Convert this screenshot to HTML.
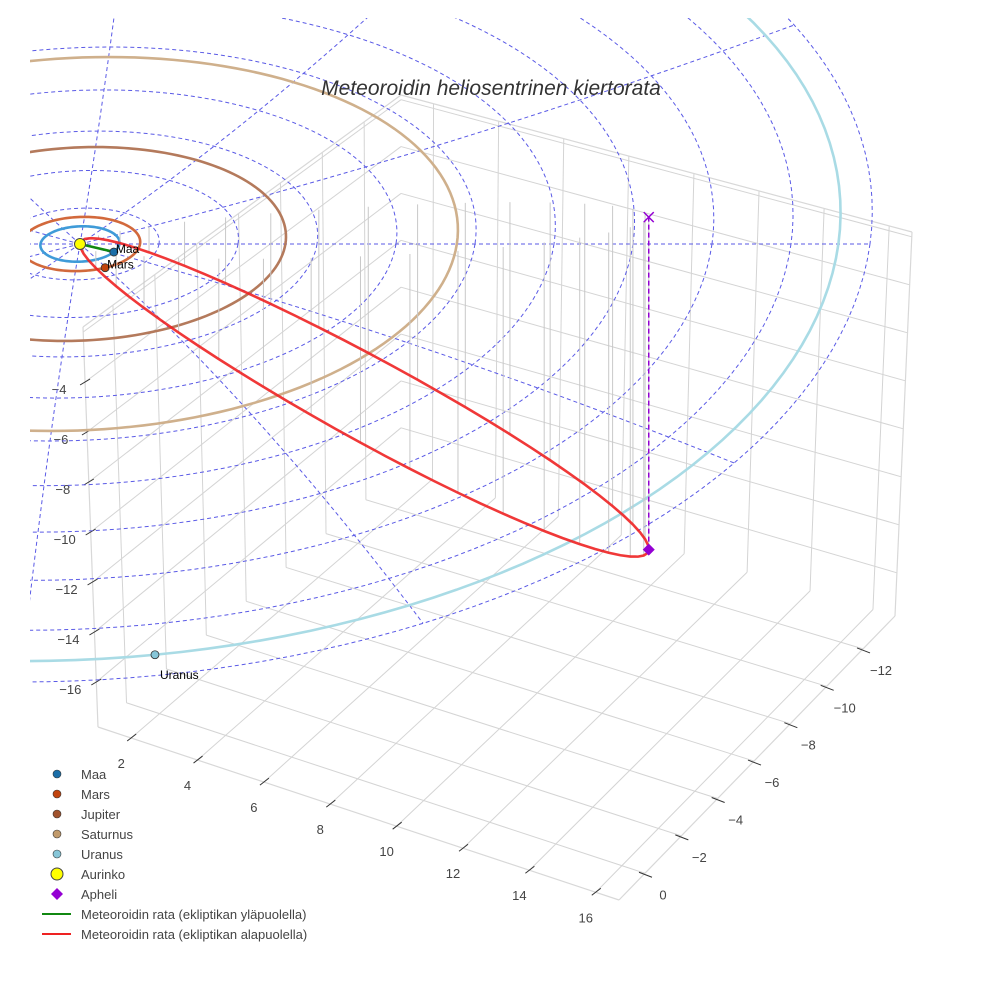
<!DOCTYPE html>
<html><head><meta charset="utf-8"><style>
html,body{margin:0;padding:0;background:#fff;}
svg{display:block;font-family:"Liberation Sans",Arial,sans-serif;}
</style></head><body>
<svg id="chart" width="984" height="984" viewBox="0 0 984 984" xmlns="http://www.w3.org/2000/svg">
<defs><clipPath id="clipEcl"><rect x="30" y="18" width="954" height="940"/></clipPath></defs>
<rect width="984" height="984" fill="#fff"/>
<g id="box"></g>
<g id="ticks"></g>
<g id="ecl" clip-path="url(#clipEcl)"></g>
<text x="491" y="95" text-anchor="middle" font-size="21" font-style="italic" fill="#333">Meteoroidin heliosentrinen kiertorata</text>
<g id="legend"></g>
</svg>
<script>
// ---- data ----
const xTicks = [2,4,6,8,10,12,14,16];
const yTicks = [0,-2,-4,-6,-8,-10,-12];
const zTicks = [-16,-14,-12,-10,-8,-6,-4];
const zGrid = [-16,-14,-12,-10,-8,-6,-4,-2];
const planetNames = ["Maa","Mars","Jupiter","Saturnus","Uranus"];
const planetA = [1.0,1.52,5.2,9.54,19.2];
const planetAngleDeg = [27,61,185,175,80];
const planetLabeled = [true,true,false,false,true];
const gridRadii = [2,4,6,8,10,12,14,16,18,20];
const spokeAnglesDeg = [0,30,60,90,120,150,180,210,240,270,300,330];
const aphelion = [14.3,-1.3,-13.3];
const perihelion = [0,0,0];
const orbitWidth = [0,1.3,-0.8];
const aboveEcliptic = [[0,0,0],[0.9,0.45,0]];

const NS="http://www.w3.org/2000/svg";
function mk(tag,attrs,parent){const e=document.createElementNS(NS,tag);for(const k in attrs)e.setAttribute(k,attrs[k]);parent.appendChild(e);return e;}

function proj(X,Y,Z){const r=Math.hypot(X,Y);return [80+39.5*X-3*Y, 244+(17.5+0.22*r)*Y-25*Z];}
const BFL=[98,727],BFR=[619,900],BBR=[895,616],BBL=[401,470],TFL=[83,327],TFR=[610,530],TBR=[912,232],TBL=[401,95];
const xr=[1,16.7],yr=[1.43,-13.76],zr=[-17.8,-1.8];
function lerp(a,b,t){return [a[0]+(b[0]-a[0])*t,a[1]+(b[1]-a[1])*t];}
function bp(x,y,z){const u=(x-xr[0])/(xr[1]-xr[0]),v=(y-yr[0])/(yr[1]-yr[0]),w=(z-zr[0])/(zr[1]-zr[0]);
 const b=lerp(lerp(BFL,BFR,u),lerp(BBL,BBR,u),v),t=lerp(lerp(TFL,TFR,u),lerp(TBL,TBR,u),v);return lerp(b,t,w);}

const box=document.getElementById('box');
function gl(p,q,c,w){const l=mk('line',{x1:p[0],y1:p[1],x2:q[0],y2:q[1],stroke:c||'#d4d4d4','stroke-width':w||1},box);return l;}
for(const x of xTicks){const l=gl(bp(x,yr[0],zr[0]),bp(x,yr[1],zr[0]));}
for(const y of yTicks){const l=gl(bp(xr[0],y,zr[0]),bp(xr[1],y,zr[0]));}
for(const x of xTicks){const l=gl(bp(x,yr[1],zr[0]),bp(x,yr[1],zr[1]));}
for(const z of zGrid){const l=gl(bp(xr[0],yr[1],z),bp(xr[1],yr[1],z));}
for(const y of yTicks){const l=gl(bp(xr[0],y,zr[0]),bp(xr[0],y,zr[1]));}
for(const z of zGrid){const l=gl(bp(xr[0],yr[0],z),bp(xr[0],yr[1],z));}
[[bp(xr[0],yr[0],zr[0]),bp(xr[1],yr[0],zr[0])],[bp(xr[1],yr[0],zr[0]),bp(xr[1],yr[1],zr[0])],[bp(xr[0],yr[0],zr[0]),bp(xr[0],yr[0],zr[1])],
 [bp(xr[1],yr[1],zr[0]),bp(xr[1],yr[1],zr[1])],[bp(xr[0],yr[1],zr[1]),bp(xr[1],yr[1],zr[1])],[bp(xr[0],yr[0],zr[1]),bp(xr[0],yr[1],zr[1])]].forEach(e=>{const l=gl(e[0],e[1],'#d8d8d8',1.2);});

const tk=document.getElementById('ticks');
function tline(p,a,b){const l=mk('line',{x1:p[0]+a[0],y1:p[1]+a[1],x2:p[0]+b[0],y2:p[1]+b[1],stroke:'#333','stroke-width':1},tk);return l;}
function tlab(p,d,s){const t=mk('text',{x:p[0]+d[0],y:p[1]+d[1],'font-size':13,fill:'#444','text-anchor':'middle'},tk);t.textContent=s;return t;}
for(const x of xTicks){const p=bp(x,yr[0],zr[0]);const l=tline(p,[-4,3],[5,-4]);
 const t=tlab(p,[-10,30],String(x));}
for(const y of yTicks){const p=bp(xr[1],y,zr[0]);const l=tline(p,[-6,-1],[7,4]);
 const t=tlab(p,[18,26],(y<0?'\u2212':'')+Math.abs(y));}
for(const z of zTicks){const p=bp(xr[0],yr[0],z);const l=tline(p,[-5,3],[5,-3]);
 const t=tlab(p,[-26,12],'\u2212'+Math.abs(z));}

const ecl=document.getElementById('ecl');
function circlePts(r){const pts=[];for(let i=0;i<=180;i++){const a=i/180*2*Math.PI;pts.push(proj(r*Math.cos(a),r*Math.sin(a),0));}return pts.map(p=>p.join(',')).join(' ');}
for(const r of gridRadii){const e=mk('polyline',{points:circlePts(r),fill:'none',stroke:'#5a5ae6','stroke-width':1,'stroke-dasharray':'4,3'},ecl);
 }
const rMax=gridRadii[gridRadii.length-1];
for(const d of spokeAnglesDeg){const a=d*Math.PI/180;const pts=[];for(let i=0;i<=40;i++){const r=rMax*i/40;pts.push(proj(r*Math.cos(a),r*Math.sin(a),0).join(','));}
 const e=mk('polyline',{points:pts.join(' '),fill:'none',stroke:'#5a5ae6','stroke-width':1,'stroke-dasharray':'4,3'},ecl);
 }
const orbitColors=['#3f9bd8','#d2693c','#b47a5c','#cfb08c','#a9dbe5'];
const dotColors=['#1a6ea8','#c1440e','#a0522d','#c19a6b','#87c6d8'];
planetA.forEach((a,i)=>{const e=mk('polyline',{points:circlePts(a),fill:'none',stroke:orbitColors[i],'stroke-width':2.6},ecl);
 });

const U=[0,1,2].map(k=>(aphelion[k]-perihelion[k])/2), C=[0,1,2].map(k=>(aphelion[k]+perihelion[k])/2);
const orbitPts=[];const N=72;
for(let i=0;i<=N;i++){const t=Math.PI+2*Math.PI*i/N;orbitPts.push([0,1,2].map(k=>C[k]+U[k]*Math.cos(t)+orbitWidth[k]*Math.sin(t)));}
orbitPts.forEach((p,i)=>{if(i%2)return;const a=proj(p[0],p[1],p[2]),b=proj(p[0],p[1],0);
 const l=mk('line',{x1:a[0],y1:a[1],x2:b[0],y2:b[1],stroke:'#c8c8c8','stroke-width':1},ecl);
 });
const red=mk('polyline',{points:orbitPts.map(p=>proj(p[0],p[1],p[2]).join(',')).join(' '),fill:'none',stroke:'#ee2222','stroke-width':2.6,'stroke-opacity':0.9},ecl);

const green=mk('polyline',{points:aboveEcliptic.map(p=>proj(p[0],p[1],p[2]).join(',')).join(' '),fill:'none',stroke:'#118811','stroke-width':2.6},ecl);

const ap=proj(aphelion[0],aphelion[1],aphelion[2]),ax=proj(aphelion[0],aphelion[1],0);
const vl=mk('line',{x1:ap[0],y1:ap[1],x2:ax[0],y2:ax[1],stroke:'#9400d3','stroke-width':1.5,'stroke-dasharray':'5,3'},ecl);

const xm=mk('path',{d:`M${ax[0]-5},${ax[1]-5}L${ax[0]+5},${ax[1]+5}M${ax[0]+5},${ax[1]-5}L${ax[0]-5},${ax[1]+5}`,stroke:'#9400d3','stroke-width':1.5},ecl);

const dm=mk('path',{d:`M${ap[0]},${ap[1]-6}L${ap[0]+6},${ap[1]}L${ap[0]},${ap[1]+6}L${ap[0]-6},${ap[1]}Z`,fill:'#9400d3'},ecl);

const sp=proj(0,0,0);
const sun=mk('circle',{cx:sp[0],cy:sp[1],r:5.5,fill:'#ffff00',stroke:'#444','stroke-width':1},ecl);

planetA.forEach((a,i)=>{const th=planetAngleDeg[i]*Math.PI/180;const p=proj(a*Math.cos(th),a*Math.sin(th),0);
 const c=mk('circle',{cx:p[0],cy:p[1],r:4,fill:dotColors[i],stroke:'#333','stroke-width':0.8},ecl);
 
 if(planetLabeled[i]){const big=i<2;const t=mk('text',{x:p[0]+(big?2:5),y:p[1]+(big?1:24),'font-size':12,fill:'#000'},ecl);t.textContent=planetNames[i];
  }});

const lg=document.getElementById('legend');
const legendNames=["Maa","Mars","Jupiter","Saturnus","Uranus","Aurinko","Apheli","Meteoroidin rata (ekliptikan yläpuolella)","Meteoroidin rata (ekliptikan alapuolella)"];
legendNames.forEach((n,i)=>{const y=774+20*i;const g=mk('g',{},lg);
 
 if(i<5){mk('circle',{cx:57,cy:y,r:4,fill:dotColors[i],stroke:'#333','stroke-width':0.6},g);}
 else if(i===5){mk('circle',{cx:57,cy:y,r:6,fill:'#ffff00',stroke:'#444','stroke-width':1},g);}
 else if(i===6){mk('path',{d:`M57,${y-6}L63,${y}L57,${y+6}L51,${y}Z`,fill:'#9400d3'},g);}
 else{mk('line',{x1:42,y1:y,x2:71,y2:y,stroke:i===7?'#118811':'#ee2222','stroke-width':2},g);}
 const t=mk('text',{x:81,y:y+5,'font-size':13,fill:'#444'},g);t.textContent=n;});
</script>
</body></html>
